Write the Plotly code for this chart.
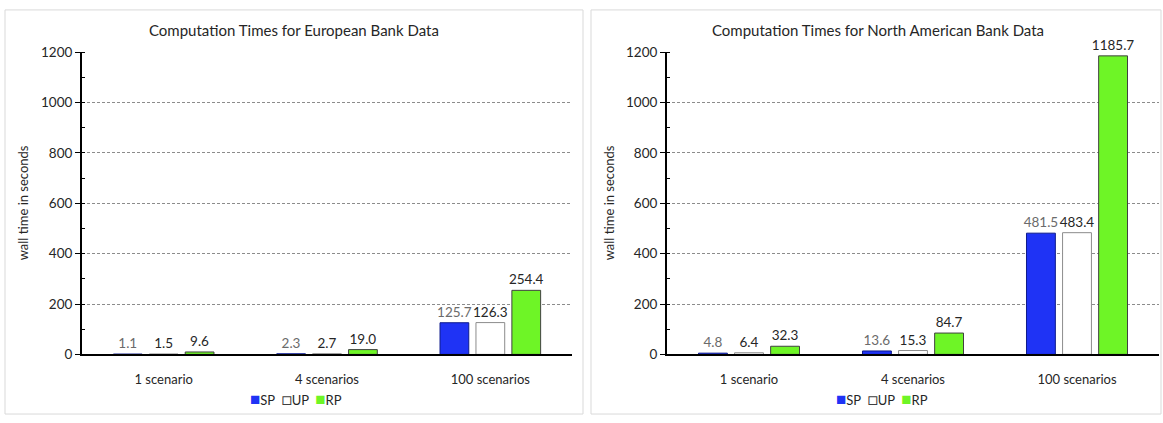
import plotly.graph_objects as go

categories = ["1 scenario", "4 scenarios", "100 scenarios"]
series_names = ["SP", "UP", "RP"]

eu_sp = [1.1, 2.3, 125.7]
eu_up = [1.5, 2.7, 126.3]
eu_rp = [9.6, 19.0, 254.4]

na_sp = [4.8, 13.6, 481.5]
na_up = [6.4, 15.3, 483.4]
na_rp = [32.3, 84.7, 1185.7]

titles = ["Computation Times for European Bank Data",
          "Computation Times for North American Bank Data"]
y_title = "wall time in seconds"
y_ticks = [0, 200, 400, 600, 800, 1000, 1200]

W, H = 1163, 423
FONT = "Lato"

fills = ["#1f33f5", "#ffffff", "#6ef526"]
lines = ["#0d1a8c", "#8c8c8c", "#404040"]
label_colors = ["#6b6b6b", "#262626", "#262626"]
legend_glyph_colors = ["#1f33f5", "#404040", "#6ef526"]
legend_glyphs = ["■", "□", "■"]

fig = go.Figure()

panels = [
    dict(data=[eu_sp, eu_up, eu_rp], xa="x", ya="y",
         box=(5, 583), center=294, legend_x=296),
    dict(data=[na_sp, na_up, na_rp], xa="x2", ya="y2",
         box=(591, 1161), center=878, legend_x=882),
]

for p in panels:
    for i, name in enumerate(series_names):
        vals = p["data"][i]
        fig.add_trace(go.Bar(
            x=categories, y=vals, name=name,
            xaxis=p["xa"], yaxis=p["ya"], showlegend=False,
            marker=dict(color=fills[i], line=dict(color=lines[i], width=1)),
            text=[f"{v:.1f}" for v in vals], textposition="outside",
            textfont=dict(family=FONT, size=13.5, color=label_colors[i]),
            constraintext="none", cliponaxis=False,
        ))

y_bottom = 1 - 360 / H
y_top = 1 - 46 / H

axis_common_x = dict(
    showline=True, linecolor="black", linewidth=2, ticks="",
    tickfont=dict(family=FONT, size=13, color="#262626"),
    showgrid=False, zeroline=False, fixedrange=True, ticklabelstandoff=12,
)
axis_common_y = dict(
    range=[0, 1200], tickvals=y_ticks, showline=True, linecolor="black", linewidth=2,
    ticks="outside", ticklen=5, tickcolor="black", tickwidth=1,
    minor=dict(dtick=100, ticks="inside", ticklen=3, tickcolor="black", showgrid=False),
    showgrid=True, gridcolor="#8c8c8c", gridwidth=1, griddash="3px,2px",
    tickfont=dict(family=FONT, size=13.5, color="#262626"), zeroline=False, fixedrange=True,
)

fig.update_layout(
    width=W, height=H, margin=dict(l=0, r=0, t=0, b=0),
    paper_bgcolor="white", plot_bgcolor="white",
    barmode="group", bargap=0.34, bargroupgap=0.2,
    font=dict(family=FONT, size=13, color="#262626"),
    xaxis=dict(domain=[82 / W, 572 / W], anchor="y", **axis_common_x),
    yaxis=dict(domain=[y_bottom, y_top], anchor="x", **axis_common_y),
    xaxis2=dict(domain=[667 / W, 1159 / W], anchor="y2", **axis_common_x),
    yaxis2=dict(domain=[y_bottom, y_top], anchor="x2", **axis_common_y),
    showlegend=False,
)

legend_text = "&nbsp;&nbsp;".join(
    f'<span style="color:{c};font-size:17px">{g}</span>{n}'
    for g, c, n in zip(legend_glyphs, legend_glyph_colors, series_names)
)

shapes = []
annotations = []
for p, t in zip(panels, titles):
    bx0, bx1 = p["box"]
    shapes.append(dict(type="rect", xref="paper", yref="paper",
                       x0=bx0 / W, x1=bx1 / W, y0=1 / H, y1=1 - 2 / H,
                       line=dict(color="#d9d9d9", width=1), layer="below"))
    annotations.append(dict(text=t, xref="paper", yref="paper", x=p["center"] / W,
                            y=1 - 23 / H, xanchor="center", yanchor="middle", showarrow=False,
                            font=dict(family=FONT, size=15, color="#262626")))
    annotations.append(dict(text=y_title, xref="paper", yref="paper",
                            x=(bx0 + 18) / W, y=1 - 203 / H, textangle=-90,
                            xanchor="center", yanchor="middle", showarrow=False,
                            font=dict(family=FONT, size=13, color="#262626")))
    annotations.append(dict(text=legend_text, xref="paper", yref="paper",
                            x=p["legend_x"] / W, y=1 - 406 / H,
                            xanchor="center", yanchor="middle", showarrow=False,
                            font=dict(family=FONT, size=13, color="#262626")))

fig.update_layout(shapes=shapes, annotations=annotations)

fig.write_html("out.html")
